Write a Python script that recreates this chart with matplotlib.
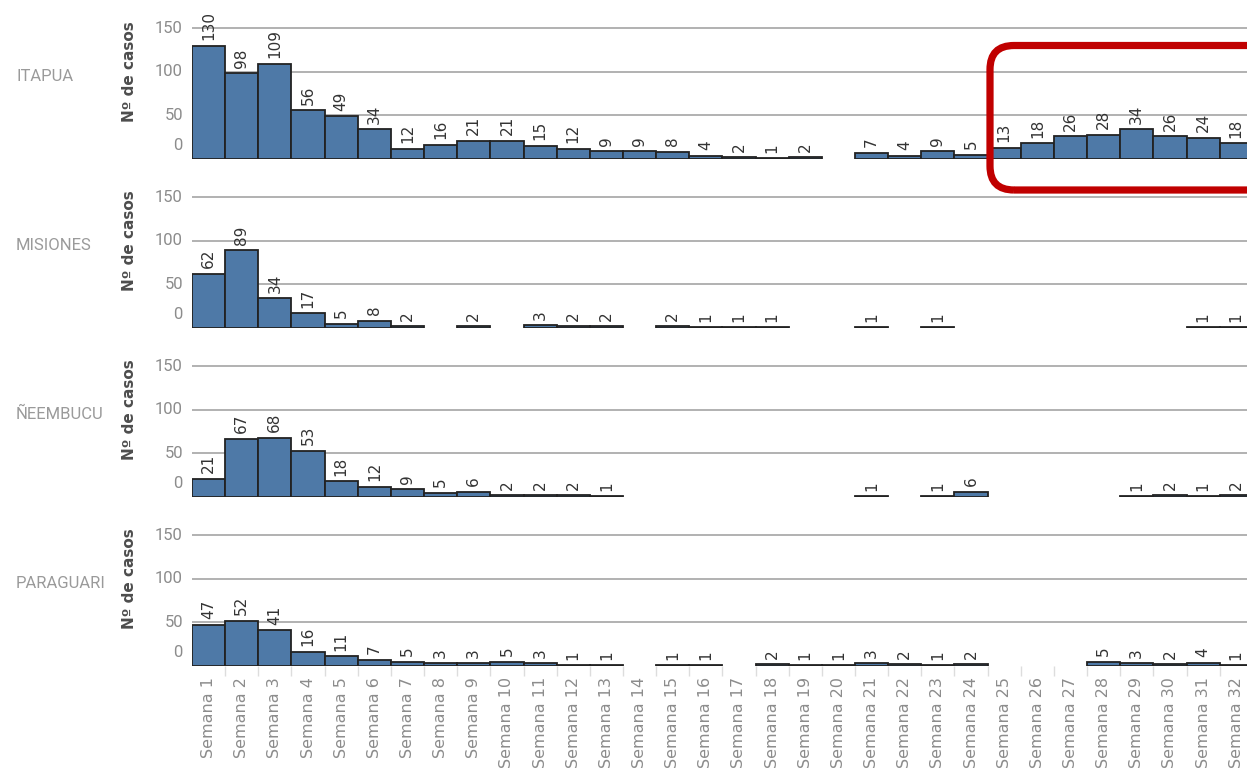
import numpy as np
import matplotlib
matplotlib.use("Agg")
import matplotlib.pyplot as plt
from matplotlib.patches import FancyBboxPatch
from matplotlib.transforms import IdentityTransform, blended_transform_factory

nan = np.nan
weeks = [f"Semana {i}" for i in range(1, 33)]
regions = ["ITAPUA", "MISIONES", "ÑEEMBUCU", "PARAGUARI"]

itapua = [130, 98, 109, 56, 49, 34, 12, 16, 21, 21, 15, 12, 9, 9, 8, 4, 2, 1, 2, nan,
          7, 4, 9, 5, 13, 18, 26, 28, 34, 26, 24, 18]
misiones = [62, 89, 34, 17, 5, 8, 2, nan, 2, nan, 3, 2, 2, nan, 2, 1, 1, 1, nan, nan,
            1, nan, 1, nan, nan, nan, nan, nan, nan, nan, 1, 1]
neembucu = [21, 67, 68, 53, 18, 12, 9, 5, 6, 2, 2, 2, 1, nan, nan, nan, nan, nan, nan, nan,
            1, nan, 1, 6, nan, nan, nan, nan, 1, 2, 1, 2]
paraguari = [47, 52, 41, 16, 11, 7, 5, 3, 3, 5, 3, 1, 1, nan, 1, 1, nan, 2, 1, 1,
             3, 2, 1, 2, nan, nan, nan, 5, 3, 2, 4, 1]
series = [itapua, misiones, neembucu, paraguari]
yticks = [0, 50, 100, 150]

W, H = 1247, 771
fig = plt.figure(figsize=(W / 100, H / 100), dpi=100)

bar_color = "#4e79a7"
edge_color = "#222222"
grid_color = "#ababab"
tick_color = "#8c8c8c"

left_px = 192
bar_px = 33.15
pxu = 0.873  # pixels per unit
baselines = [159, 328, 497, 666]
ytop = 170
xpos = np.arange(1, 33)

for k, (reg, vals) in enumerate(zip(regions, series)):
    b = baselines[k]
    ax = fig.add_axes([left_px / W, 1 - b / H, (W - left_px) / W, ytop * pxu / H])
    ax.set_xlim(0.5, 0.5 + (W - left_px) / bar_px)
    ax.set_ylim(0, ytop)
    for s in ax.spines.values():
        s.set_visible(False)
    for g in yticks[1:]:
        ax.axhline(g, color=grid_color, lw=1.3, zorder=0)
    v = np.array(vals, dtype=float)
    mask = ~np.isnan(v)
    ax.bar(xpos[mask], v[mask], width=1.0, color=bar_color, edgecolor=edge_color,
           linewidth=1.3, zorder=2)
    for x, val in zip(xpos[mask], v[mask]):
        ax.annotate(f"{int(val)}", (x, val), xytext=(0, 4), textcoords="offset points",
                    rotation=90, ha="center", va="bottom", fontsize=11,
                    color="#333333", family="DejaVu Sans", annotation_clip=False)
    ax.set_yticks([])
    trans = blended_transform_factory(IdentityTransform(), ax.transData)
    for t in yticks:
        yy = 15 if t == 0 else t
        ax.text(183, yy, str(t), transform=trans, ha="right", va="center",
                fontsize=12, color=tick_color, family="Roboto")
    ax.text(16, 95, reg, transform=trans, ha="left", va="center",
            fontsize=12, color="#9a9a9a", family="Roboto")
    ax.text(130, 100, "Nº de casos", transform=trans, ha="center", va="center",
            rotation=90, fontsize=11, fontweight="bold", color="#4d4d4d",
            family="DejaVu Sans")
    if k == len(regions) - 1:
        ax.set_xticks(xpos)
        ax.set_xticklabels(weeks, rotation=90, fontsize=11.5, color=tick_color,
                           family="DejaVu Sans")
        ax.tick_params(axis="x", length=0, pad=8)
        ax.set_xticks(np.arange(1.5, 32.5, 1), minor=True)
        ax.tick_params(axis="x", which="minor", length=7, color="#dddddd", width=1)
    else:
        ax.set_xticks([])

box = FancyBboxPatch((990, H - 190), 320, 190 - 45.5,
                     boxstyle="round,pad=0,rounding_size=24",
                     transform=IdentityTransform(), fill=False,
                     edgecolor="#c00000", linewidth=5.2, zorder=10)
fig.add_artist(box)

fig.savefig("out.png", dpi=100)
